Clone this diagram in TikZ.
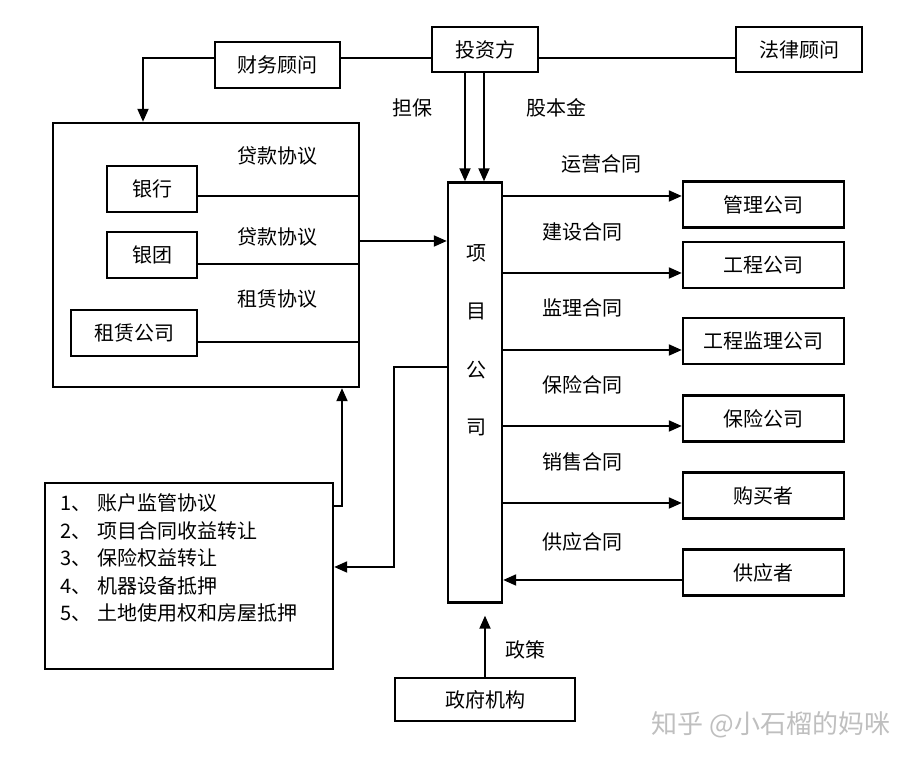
\documentclass[tikz,border=0pt]{standalone}
\usepackage{fontspec}
\setmainfont{Noto Sans CJK SC}
\usetikzlibrary{positioning,arrows.meta}

\begin{document}
\begin{tikzpicture}[x=0.5pt,y=-0.5pt,
    every node/.style={font=\fontsize{10}{12}\selectfont},
    box/.style={draw,line width=1.2pt,inner sep=0pt},
    arr/.style={line width=1pt,-{Triangle[length=6.5pt,width=5.5pt]}},
    ln/.style={line width=1pt}]
  \useasboundingbox (0,0) rectangle (922,763);
  \node[box,minimum width=53pt,minimum height=22.5pt] (inv) at (485,49.5) {投资方};
  \node[box,minimum width=62.5pt,minimum height=23pt] (fin) at (277.5,65) {财务顾问};
  \node[box,minimum width=63pt,minimum height=22.5pt] (law) at (799,49.5) {法律顾问};
  \node[box,minimum width=153pt,minimum height=132pt] (lenders) at (206,255) {};
  \node[box,minimum width=45pt,minimum height=23pt] (bank) at (152,189) {银行};
  \node[box,minimum width=45pt,minimum height=23pt] (synd) at (152,255) {银团};
  \node[box,minimum width=63pt,minimum height=23pt] (lease) at (134,333) {租赁公司};
  \node[box,minimum width=27pt,minimum height=210pt] (xm) at (475,392.5) {};
  \foreach \c [count=\i] in {项,目,公,司}
    \node (xm\i) at (476,{253+58.3*(\i-1)}) {\c};
  \node[box,minimum width=80.5pt,minimum height=23pt] (mgmt) at (763.5,204.5) {管理公司};
  \node[box,minimum width=80.5pt,minimum height=23pt] (eng) at (763.5,265) {工程公司};
  \node[box,minimum width=80.5pt,minimum height=23pt] (super) at (763.5,341) {工程监理公司};
  \node[box,minimum width=80.5pt,minimum height=23pt] (insur) at (763.5,418.5) {保险公司};
  \node[box,minimum width=80.5pt,minimum height=23pt] (buyer) at (763.5,495.5) {购买者};
  \node[box,minimum width=80.5pt,minimum height=23pt] (supp) at (763.5,572.5) {供应者};
  \node[box,minimum width=90pt,minimum height=21.5pt] (gov) at (485,699.5) {政府机构};
  \node[box,minimum width=144pt,minimum height=93pt] (list) at (189,576) {};
  \foreach \t [count=\i] in {账户监管协议,项目合同收益转让,保险权益转让,机器设备抵押,土地使用权和房屋抵押}
    \node[anchor=west,inner sep=0pt] (item\i) at (60,{503+27.5*(\i-1)}) {\i、\hspace{3pt}\t};

  \node (lguar) at (412,108) {担保};
  \node (lequity) at (556,108) {股本金};
  \node (lloan1) at (277,156) {贷款协议};
  \node (lloan2) at (277,237) {贷款协议};
  \node (llease) at (277,299) {租赁协议};
  \node (lop) at (601,164) {运营合同};
  \node (lbuild) at (582,232) {建设合同};
  \node (lsuper) at (582,308) {监理合同};
  \node (linsur) at (582,385) {保险合同};
  \node (lsale) at (582,462) {销售合同};
  \node (lsupp) at (582,542) {供应合同};
  \node (lpolicy) at (525,650) {政策};
  \node[text=black!25,font=\fontsize{13}{15}\selectfont] (mark) at (771,725) {知乎 @小石榴的妈咪};

  \draw[ln] ([yshift=3.5pt]fin.east) -- ([yshift=3.5pt]fin.east -| inv.west);
  \draw[ln] ([yshift=-4.25pt]inv.east) -- ([yshift=-4.25pt]inv.east -| law.west);
  \draw[arr] ([yshift=3.5pt]fin.west) -| ([xshift=-31.5pt]lenders.north);
  \draw[arr] ([xshift=-10pt]inv.south) -- ([xshift=-10pt]inv.south |- xm.north);
  \draw[arr] ([xshift=-0.5pt]inv.south) -- ([xshift=-0.5pt]inv.south |- xm.north);
  \draw[ln] ([yshift=-3.5pt]bank.east) -- ([yshift=-3.5pt]bank.east -| lenders.east);
  \draw[ln] ([yshift=-4.5pt]synd.east) -- ([yshift=-4.5pt]synd.east -| lenders.east);
  \draw[ln] ([yshift=-4.5pt]lease.east) -- ([yshift=-4.5pt]lease.east -| lenders.east);
  \draw[arr] ([yshift=7pt]lenders.east) -- ([yshift=7pt]lenders.east -| xm.west);
  \draw[arr] ([yshift=4.25pt]xm.east |- mgmt.west) -- ([yshift=4.25pt]mgmt.west);
  \draw[arr] ([yshift=-4pt]xm.east |- eng.west) -- ([yshift=-4pt]eng.west);
  \draw[arr] ([yshift=-4.5pt]xm.east |- super.west) -- ([yshift=-4.5pt]super.west);
  \draw[arr] ([yshift=-3.75pt]xm.east |- insur.west) -- ([yshift=-3.75pt]insur.west);
  \draw[arr] ([yshift=-3.75pt]xm.east |- buyer.west) -- ([yshift=-3.75pt]buyer.west);
  \draw[arr] ([yshift=-3.75pt]supp.west) -- ([yshift=-3.75pt]xm.east |- supp.west);
  \draw[arr] ([yshift=12.5pt]xm.west) -- ++(-26.5pt,0) |- ([yshift=4.5pt]list.east);
  \draw[arr] ([yshift=35pt]list.east) -| ([xshift=68pt]lenders.south);
  \draw[arr] (gov.north) -- ([yshift=-6pt]gov.north |- xm.south);
\end{tikzpicture}
\end{document}
